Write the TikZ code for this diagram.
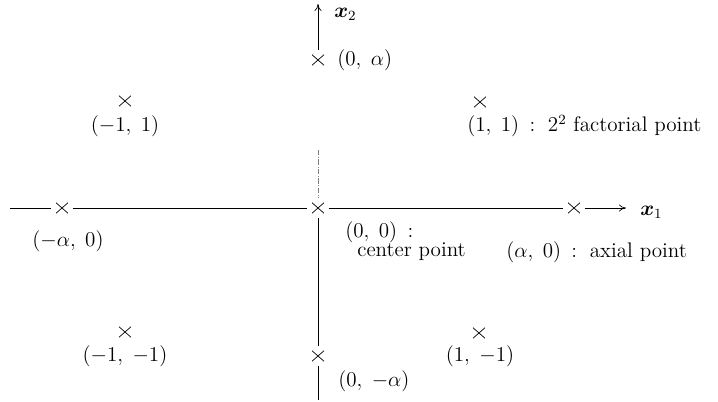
\documentclass[tikz,border=0pt]{standalone}
\usepackage{amsmath,bm}
\usepackage{tikz}
\usetikzlibrary{arrows.meta,positioning,shapes.misc}

\begin{document}
\begin{tikzpicture}[
    x=0.02cm, y=-0.02cm,
    pt/.style={cross out, draw, thin, minimum width=0.24cm, minimum height=0.21cm, inner sep=0pt, outer sep=0pt},
    lbl/.style={font=\fontsize{12}{14}\selectfont, inner sep=0pt},
    axis/.style={thin, shorten <=0.1cm, shorten >=0.1cm},
    aarrow/.style={-{To[length=4pt,width=4pt]}, thin, shorten <=0.1cm}
]
\useasboundingbox (0,0) rectangle (718,402);

% design points
\node[pt] (c) at (318,208) {};
\node[pt] (am) at (62,208) {};
\node[pt] (ap) at (574,208) {};
\node[pt] (bp) at (318,60) {};
\node[pt] (bm) at (318,356) {};
\node[pt] (f1) at (125,101) {};
\node[pt] (f2) at (480,102) {};
\node[pt] (f3) at (125,332) {};
\node[pt] (f4) at (479,333) {};

% axis ends
\coordinate (hleft) at (5,208);
\coordinate (hend) at (626,208);
\coordinate (vtop) at (318,4);
\coordinate (vmid) at (318,145);
\coordinate (vbot) at (318,405);

\draw[axis] (hleft) -- (am);
\draw[axis] (am) -- (c);
\draw[axis] (c) -- (ap);
\draw[aarrow] (ap) -- (hend);
\draw[aarrow] (bp) -- (vtop);
\draw[axis, densely dashdotted, gray] (vmid) -- (c);
\draw[axis] (c) -- (bm);
\draw[axis] (bm) -- (vbot);

% labels
\node[lbl, anchor=west] (x1) at (640,212) {$\bm{x}_1$};
\node[lbl, anchor=west] (x2) at (334,14) {$\bm{x}_2$};
\node[lbl, anchor=west] (lbp) at (337,60) {$(0,\;\alpha)$};
\node[lbl] (lf1) at (125,126) {$(-1,\;1)$};
\node[lbl, anchor=west] (lf2) at (467,126) {$(1,\;1)$ \,:\, $2^2$ factorial point};
\node[lbl] (lam) at (68,241) {$(-\alpha,\;0)$};
\node[lbl, anchor=west] (lc) at (345,232) {$(0,\;0)$ \,:};
\node[lbl, anchor=west] (lct) at (357,252) {center point};
\node[lbl, anchor=west] (lap) at (506,252) {$(\alpha,\;0)$ \,:\, axial point};
\node[lbl] (lf3) at (125,356) {$(-1,\;-1)$};
\node[lbl] (lf4) at (480,356) {$(1,\;-1)$};
\node[lbl, anchor=west] (lbm) at (338,381) {$(0,\;-\alpha)$};

\end{tikzpicture}
\end{document}
